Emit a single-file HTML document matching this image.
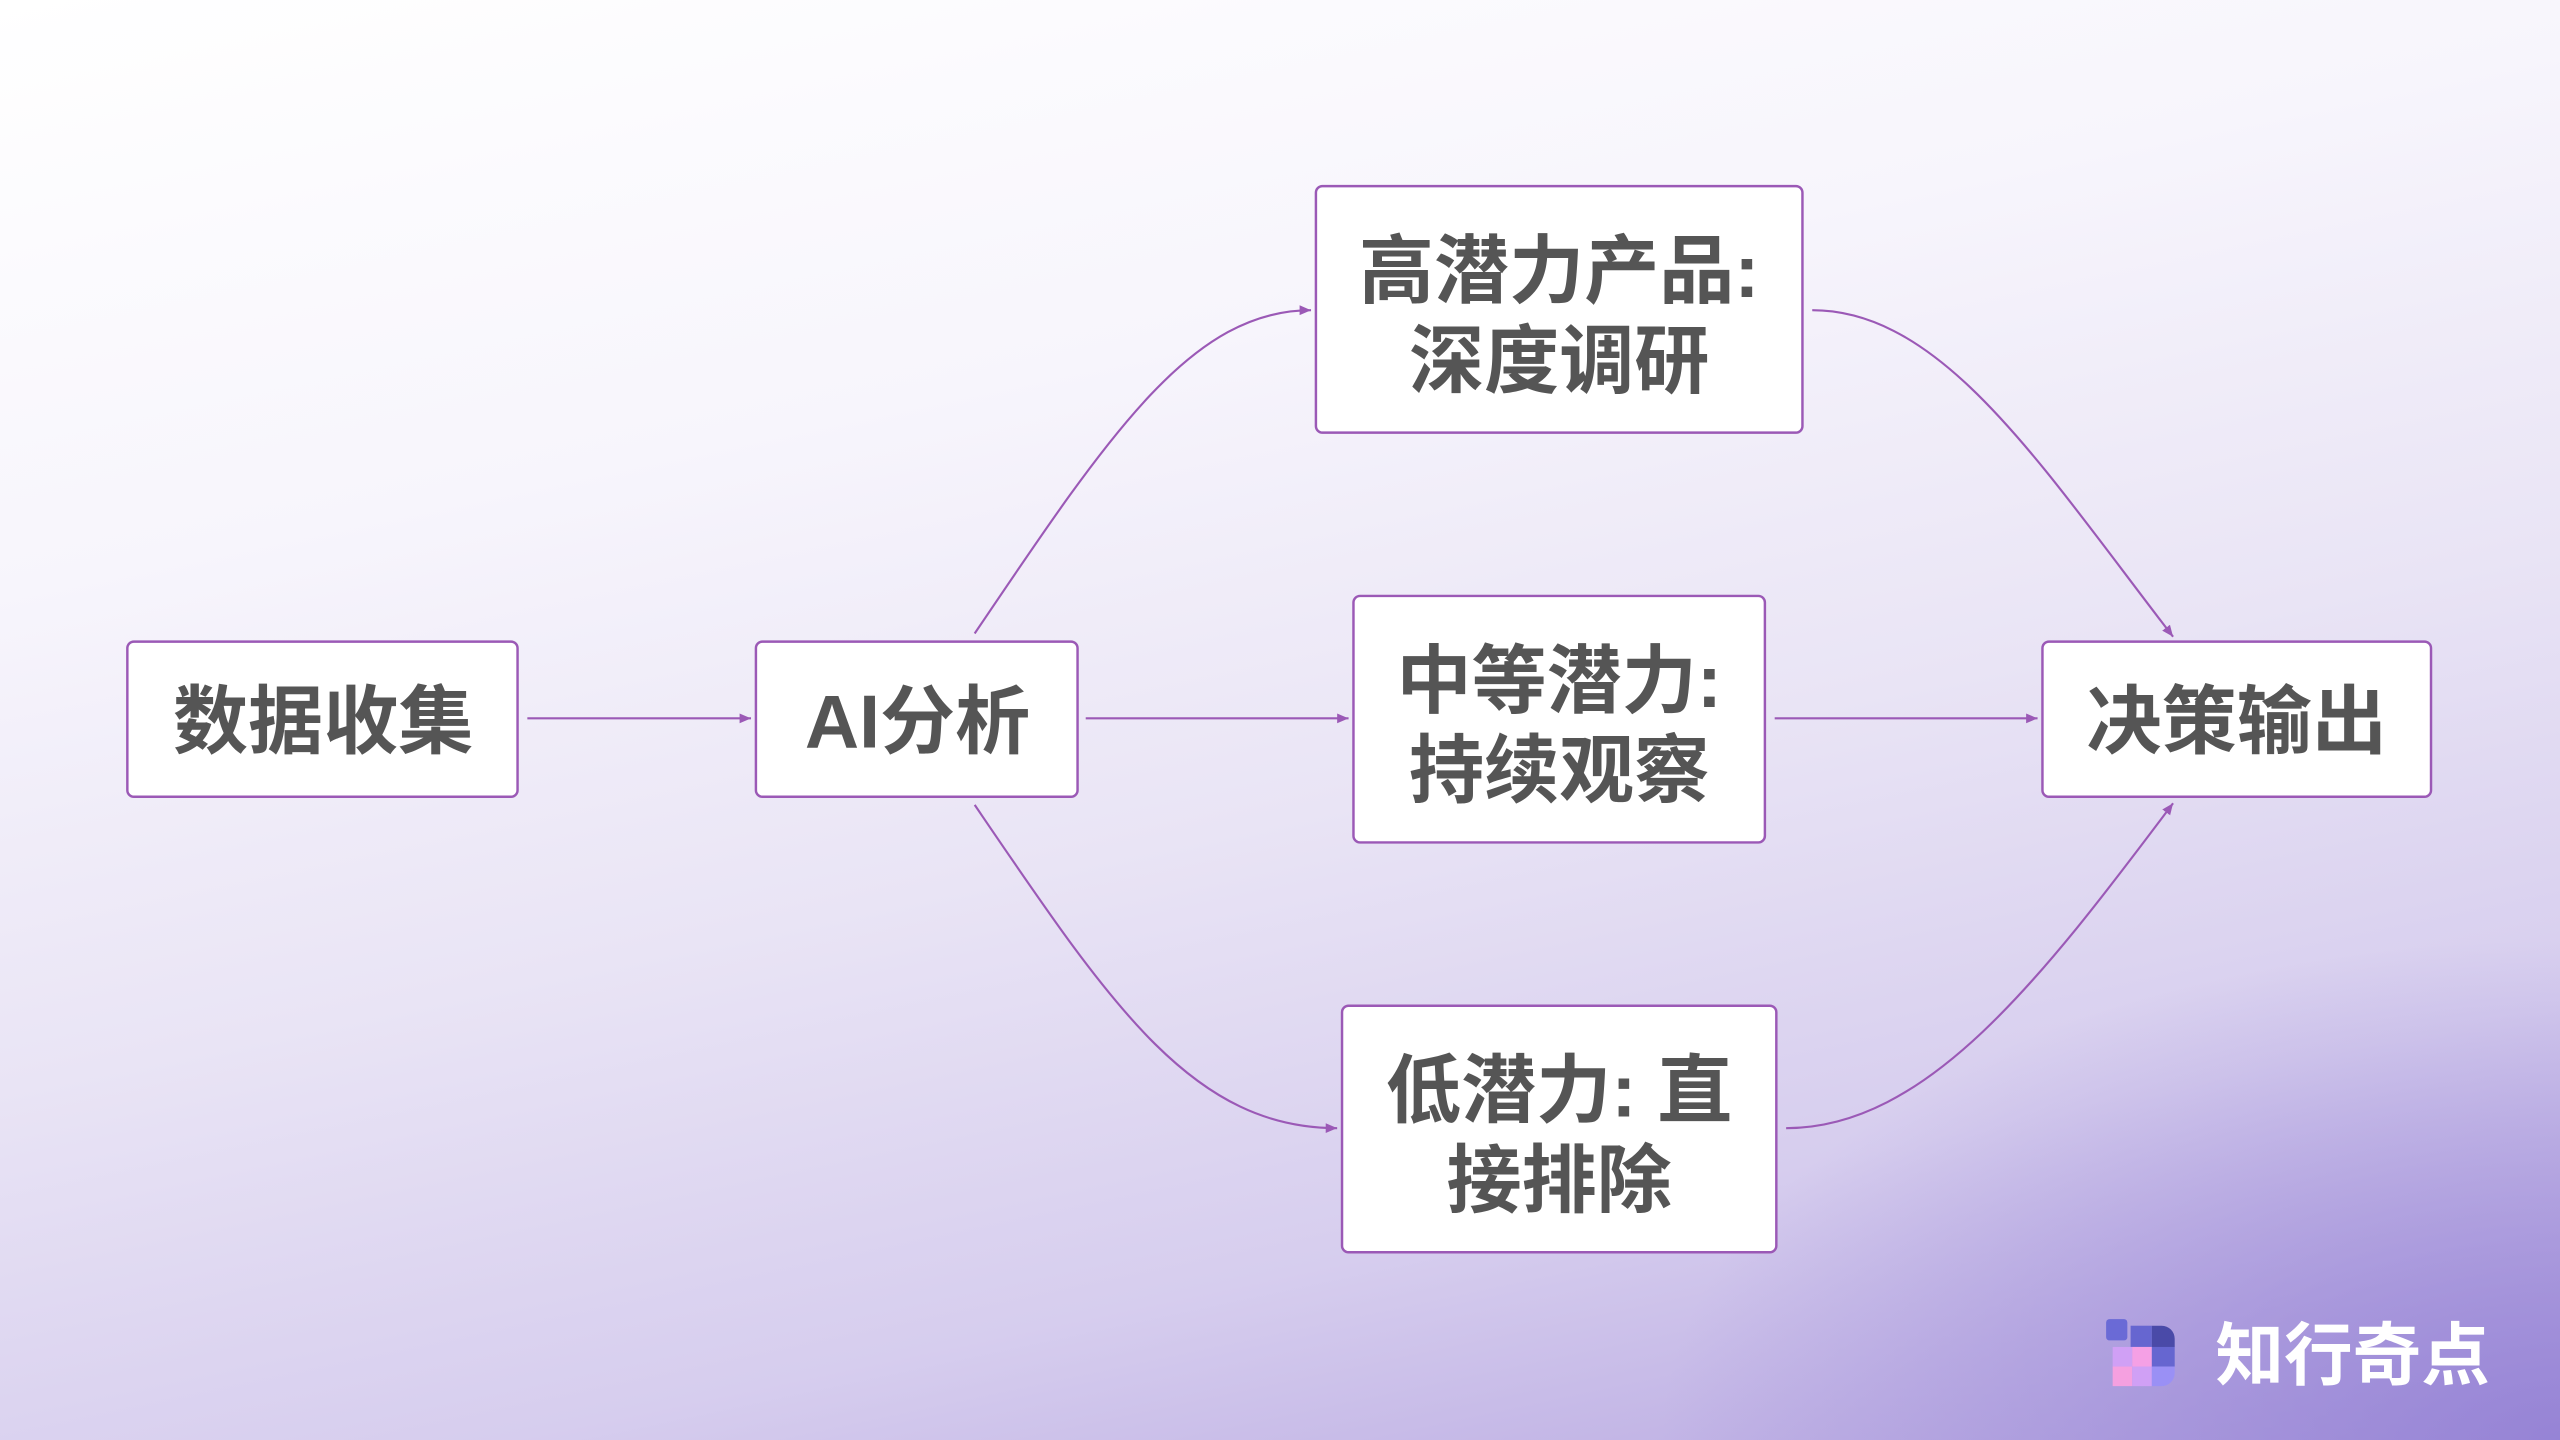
<!DOCTYPE html>
<html><head><meta charset="utf-8"><style>
html,body{margin:0;padding:0;width:2560px;height:1440px;overflow:hidden}
body{background:linear-gradient(168deg,#ffffff 0%,#f7f5fc 30%,#e9e4f5 55%,#d6cdee 78%,#c3b6e6 90%,#b4a5e0 100%)}
.ov{position:absolute;left:0;top:0;width:2560px;height:1440px;background:radial-gradient(ellipse 900px 500px at 2560px 1440px,rgba(140,120,210,0.75),rgba(140,120,210,0) 100%)}
svg{position:absolute;left:0;top:0}
text{font-family:"Liberation Sans","Noto Sans CJK SC",sans-serif;font-weight:bold;fill:#555;text-anchor:middle}
</style></head><body><div class="ov"></div>
<svg width="2560" height="1440" viewBox="0 0 1568 882">
<defs><marker id="a" markerWidth="8" markerHeight="8" refX="7" refY="4" orient="auto" markerUnits="userSpaceOnUse"><path d="M0,1 L7,4 L0,7z" fill="#9b59b6"/></marker></defs>
<g fill="none" stroke="#9b59b6" stroke-width="1.3" marker-end="url(#a)">
<path d="M323,440 L460,440"/>
<path d="M665,440 L826,440"/>
<path d="M1087,440 L1248,440"/>
<path d="M597,388 C680,265 730,190 803,190"/>
<path d="M597,493 C680,615 730,691 819,691"/>
<path d="M1110,190 C1190,190 1250,285 1331,390"/>
<path d="M1094,691 C1180,691 1250,600 1331,492"/>
</g>
<g fill="#fff" stroke="#9b59b6" stroke-width="1.5">
<rect x="78" y="393" width="239" height="95" rx="4"/>
<rect x="463" y="393" width="197" height="95" rx="4"/>
<rect x="806" y="114" width="298" height="151" rx="4"/>
<rect x="829" y="365" width="252" height="151" rx="4"/>
<rect x="822" y="616" width="266" height="151" rx="4"/>
<rect x="1251" y="393" width="238" height="95" rx="4"/>
</g>
<g font-size="46">
<text x="198" y="458">数据收集</text>
<text x="562" y="458">AI分析</text>
<text x="955" y="182">高潜力产品:</text>
<text x="955" y="237">深度调研</text>
<text x="955" y="433">中等潜力:</text>
<text x="955" y="488">持续观察</text>
<text x="955" y="684">低潜力: 直</text>
<text x="955" y="739">接排除</text>
<text x="1370" y="458">决策输出</text>
</g>
<g>
<rect x="1290" y="808" width="13" height="13" rx="2" fill="#6a6ad6"/>
<rect x="1305" y="812" width="13" height="13" fill="#6666d0"/>
<path d="M1318,812 h6 a8,8 0 0 1 8,8 v5 h-14z" fill="#4a4aa8"/>
<rect x="1294" y="825" width="12" height="12" fill="#d0a0f5"/>
<rect x="1306" y="825" width="12" height="12" fill="#f5a0e5"/>
<rect x="1318" y="825" width="14" height="12" fill="#6666d0"/>
<rect x="1294" y="837" width="12" height="12" fill="#f5a0e0"/>
<rect x="1306" y="837" width="12" height="12" fill="#d0a0f5"/>
<path d="M1318,837 h14 v4 a8,8 0 0 1 -8,8 h-6z" fill="#9a90f5"/>
<text x="1441" y="845" font-size="42" style="fill:#fff">知行奇点</text>
</g>
</svg>
</body></html>
